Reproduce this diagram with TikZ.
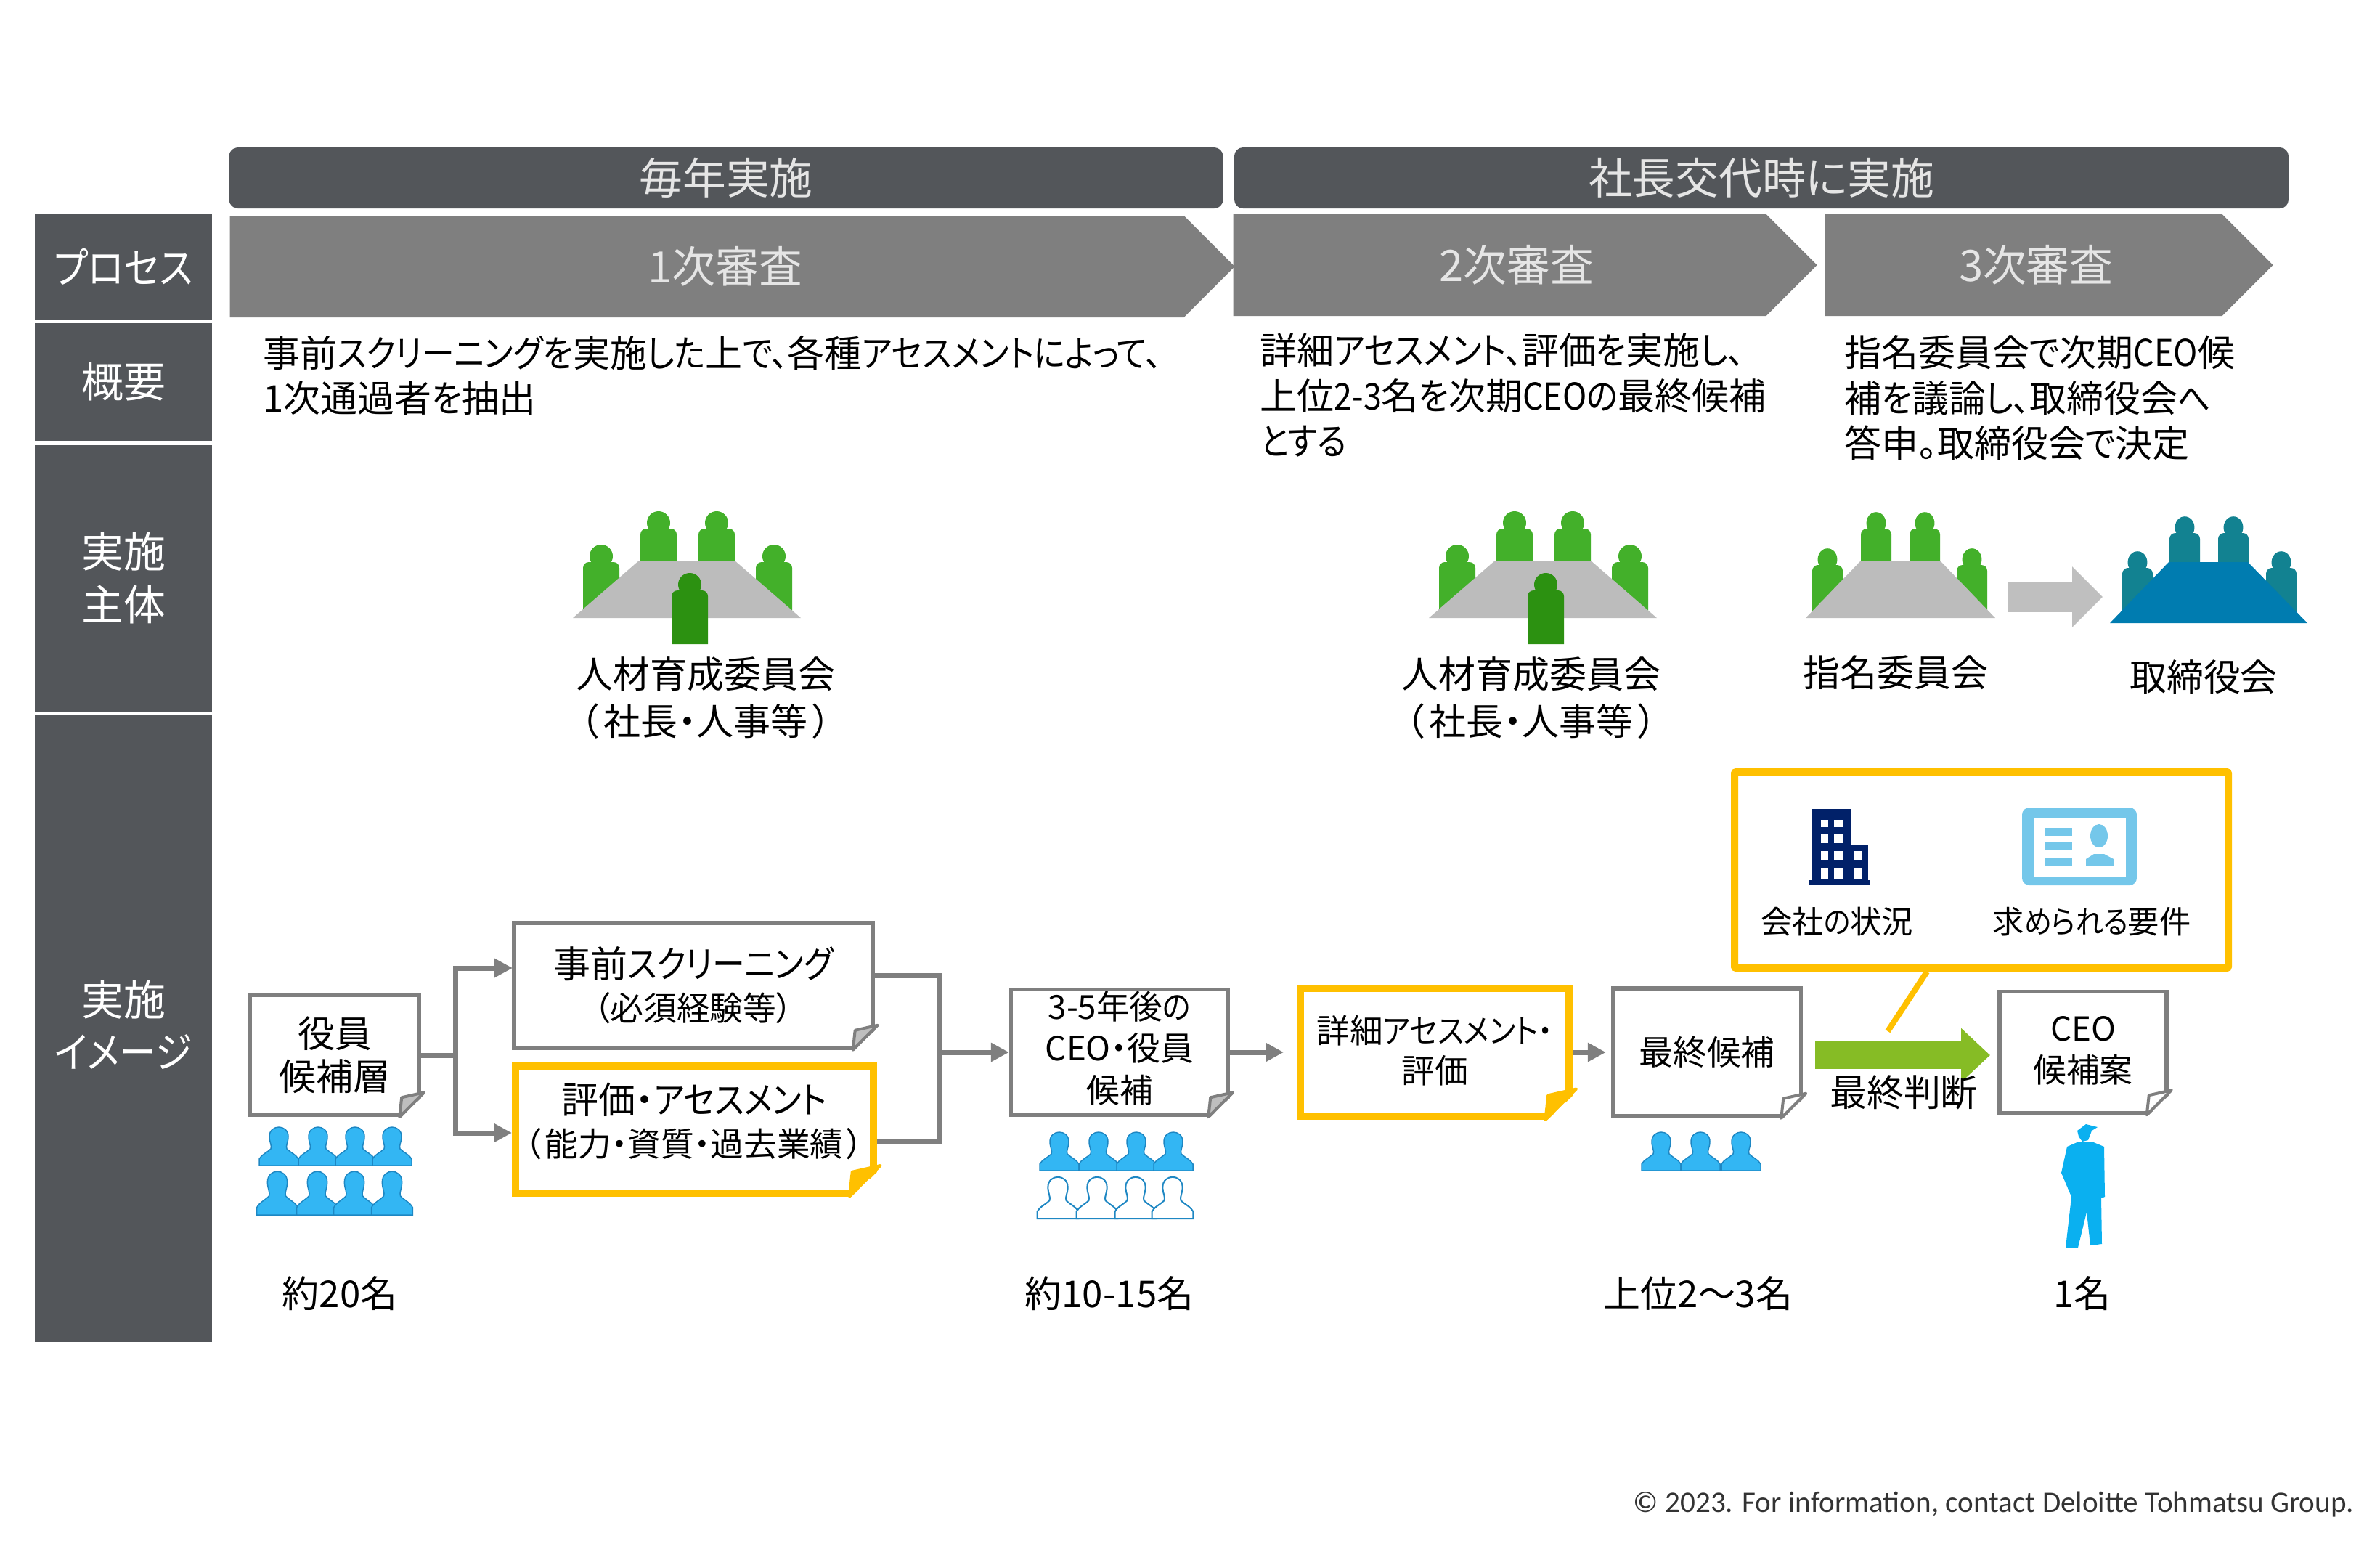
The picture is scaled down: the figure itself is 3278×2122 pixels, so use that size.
\documentclass[tikz,border=0pt]{standalone}
\usepackage{fontspec}
\setmainfont{Noto Sans CJK JP}[RawFeature=+palt]
\newfontfamily\narrowfont{Noto Sans CJK JP}[RawFeature=+palt, FakeStretch=0.88]
\newfontfamily\footfont{Carlito}
\newcommand{\kn}[1]{{\narrowfont #1}}
\usepackage{xcolor}
\usetikzlibrary{arrows.meta, positioning, calc, shapes.symbols}
\definecolor{panel}{RGB}{83, 86, 90}
\definecolor{chev}{RGB}{127, 127, 127}
\definecolor{notegray}{RGB}{127, 127, 127}
\definecolor{foldgray}{RGB}{191, 191, 191}
\definecolor{accent}{RGB}{255, 192, 0}
\definecolor{seatgreen}{RGB}{67, 176, 42}
\definecolor{seatdark}{RGB}{44, 145, 17}
\definecolor{tablegray}{RGB}{188, 188, 188}
\definecolor{seatteal}{RGB}{18, 130, 145}
\definecolor{tableblue}{RGB}{0, 124, 176}
\definecolor{bustblue}{RGB}{51, 182, 243}
\definecolor{bustline}{RGB}{30, 135, 195}
\definecolor{manblue}{RGB}{10, 176, 240}
\definecolor{navy}{RGB}{1, 33, 105}
\definecolor{cardblue}{RGB}{116, 199, 234}
\definecolor{judge}{RGB}{134, 188, 37}
\tikzset{
    sidebox/.style={rectangle, fill=panel, text=white, align=center, inner sep=0pt, minimum width=24.4mm, font=\fontsize{16.5}{20.7}\selectfont},
    band/.style={rectangle, rounded corners=1.2mm, fill=panel, text=white!90!black, minimum height=8.4mm, inner sep=0pt, font=\fontsize{17}{20}\selectfont},
    phase/.style={signal, signal to=east, signal from=nowhere, signal pointer angle=90, fill=chev, text=white!90!black, minimum height=14mm, inner sep=0pt, font=\fontsize{17}{20}\selectfont},
    desc/.style={align=left, inner sep=0pt, anchor=west, font=\fontsize{14.5}{17.8}\selectfont},
    lab/.style={align=center, inner sep=0pt, font=\fontsize{14.5}{18.5}\selectfont},
    smalllab/.style={align=center, inner sep=0pt, font=\fontsize{12.3}{15}\selectfont},
    note/.style={rectangle, draw=notegray, line width=0.55mm, fill=white, align=center, inner sep=0pt, font=\fontsize{14.5}{16.8}\selectfont},
    keynote/.style={note, draw=accent, line width=1mm},
    arr/.style={-{Triangle[length=2.5mm,width=2.5mm]}, line width=0.7mm, notegray},
    plain/.style={line width=0.7mm, notegray},
    bustfull/.style={fill=bustblue, draw=bustline, line width=0.15mm},
    bustopen/.style={fill=white, draw=bustline, line width=0.2mm},
    seatfig/.pic={
        \path[pic actions] (-25,74) [rounded corners=0.8mm] -- (-25,0) -- (25,0) [sharp corners] -- (25,74) -- cycle;
        \path[pic actions] (0,-8) circle[radius=16];
    },
    bustfig/.pic={
        \path[pic actions] (-27,0) -- (-27,-9) .. controls (-24,-15) and (-16,-18) .. (-11,-23) .. controls (-9,-27) and (-13,-32) .. (-13,-40) .. controls (-13,-49) and (-6,-53) .. (0,-53) .. controls (6,-53) and (13,-49) .. (13,-40) .. controls (13,-32) and (9,-27) .. (11,-23) .. controls (16,-18) and (24,-15) .. (27,-9) -- (27,0) -- cycle;
    }
}
\newcommand{\notefold}[4]{
    \fill[white] ($(#1.south east)+(-30*#4,3)$) -- ($(#1.south east)+(8*#4,3)$) -- ($(#1.south east)+(8*#4,-34*#4)$) -- cycle;
    \draw[#2, fill=#3, line width=0.4mm, line join=round] ($(#1.south east)+(-30*#4,0)$) -- ($(#1.south east)+(4*#4,-34*#4)$) -- ($(#1.south east)+(-27*#4,-27*#4)$) -- cycle;
}
\begin{document}
\begin{tikzpicture}[x=0.1mm, y=-0.1mm]
    \useasboundingbox (0,0) rectangle (3278,2122);

    \node[sidebox, minimum height=14.5mm] (proc) at (170,367) {\kn{プロセス}};
    \node[sidebox, minimum height=16.2mm] (gaiyo) at (170,526) {概要};
    \node[sidebox, minimum height=36.7mm] (shutai) at (170,796) {実施\\主体};
    \node[sidebox, minimum height=86.3mm] (image) at (170,1416) {実施\\\kn{イメージ}\\[-17.3pt]\mbox{}};

    \node[band, minimum width=136.9mm] (yearly) at (1000,245) {毎年実施};
    \node[band, minimum width=145.2mm] (change) at (2426,245) {社長交代時に実施};

    \node[phase, minimum width=138.4mm, anchor=west] (stepA) at (316,367) {\hspace*{5mm}1次審査};
    \node[phase, minimum width=80.4mm, anchor=west] (stepB) at (1698,365) {\hspace*{4.6mm}2次審査};
    \node[phase, minimum width=61.7mm, anchor=west] (stepC) at (2513,365) {\hspace*{3.4mm}3次審査};

    \node[desc] (descA) at (362,517) {事前\kn{スクリーニングを}実施\kn{した}上\kn{で、}各種\kn{アセスメントによって、}\\1次通過者\kn{を}抽出};
    \node[desc] (descB) at (1735,544) {詳細\kn{アセスメント、}評価\kn{を}実施\kn{し、}\\上位\kn{2-3}名\kn{を}次期\kn{CEOの}最終候補\\\kn{とする}};
    \node[desc] (descC) at (2540,548) {指名委員会\kn{で}次期\kn{CEO}候\\補\kn{を}議論\kn{し、}取締役会\kn{へ}\\答申。取締役会\kn{で}決定};

    \foreach \dx in {0,1179}{
        \begin{scope}[shift={(\dx,0)}]
            \foreach \x/\y in {828/774, 907/728, 987/728, 1066/774}
                \pic[fill=seatgreen] at (\x,\y) {seatfig};
            \fill[tablegray] (789,851) -- (880,772) -- (1012,772) -- (1103,851) -- cycle;
            \pic[fill=seatdark] at (950,813) {seatfig};
        \end{scope}
    }
    \node[lab] (ikuseiA) at (972,961) {人材育成委員会\\（\hspace{.15em}社長・人事等\hspace{.15em}）};
    \node[lab] (ikuseiB) at (2109,961) {人材育成委員会\\（\hspace{.15em}社長・人事等\hspace{.15em}）};

    \foreach \x/\y in {2517/778, 2584/728, 2651/728, 2716/778}
        \pic[fill=seatgreen, xscale=0.84, yscale=0.95] at (\x,\y) {seatfig};
    \fill[tablegray] (2487,851) -- (2563,772) -- (2672,772) -- (2748,851) -- cycle;
    \foreach \x/\y in {2944/782, 3009/734, 3076/734, 3142/782}
        \pic[fill=seatteal, xscale=0.84, yscale=0.95] at (\x,\y) {seatfig};
    \fill[tableblue] (2906,858) -- (2987,774) -- (3096,774) -- (3178,858) -- cycle;
    \coordinate (passS) at (2766,822);
    \coordinate (passE) at (2896,822);
    \draw[foldgray, line width=4.1mm, -{Triangle[length=4.2mm,width=8.1mm]}] (passS) -- (passE);
    \node[lab] (shimei) at (2611,926) {指名委員会};
    \node[lab] (board) at (3035,932) {取締役会};

    \node[note, minimum width=23.3mm, minimum height=16.5mm] (kouho) at (461,1453) {役員\\候補層\\[-15.5pt]\mbox{}};
    \node[note, minimum width=49.4mm, minimum height=17.2mm] (screen) at (955,1357) {事前\kn{スクリーニング}\\{\fontsize{13}{16.8}\selectfont（必須経験等）}};
    \node[keynote, minimum width=49.3mm, minimum height=17.5mm] (hyoka) at (956,1555) {評価・\kn{アセスメント}\\{\fontsize{13}{16.8}\selectfont（\hspace{.1em}能力・資質・過去業績\hspace{.1em}）}\\[-9pt]\mbox{}};
    \node[note, minimum width=29.9mm, minimum height=17.3mm, font=\fontsize{13}{16.3}\selectfont] (nominee) at (1542,1449) {3-5年後\kn{の}\\CEO・役員\\候補\\[-12pt]\mbox{}};
    \node[keynote, minimum width=37mm, minimum height=17.6mm, font=\fontsize{13}{15.6}\selectfont] (detail) at (1976,1449) {詳細\kn{アセスメント・}\\評価\\[-13pt]\mbox{}};
    \node[note, minimum width=25.9mm, minimum height=17.6mm, font=\fontsize{13.3}{16}\selectfont] (final) at (2351,1449) {最終候補};
    \node[note, minimum width=23mm, minimum height=16.7mm, font=\fontsize{13}{16.4}\selectfont] (ceo) at (2869,1449) {CEO\\候補案\\[-14pt]\mbox{}};
    \foreach \n/\c/\f/\s in {kouho/notegray/foldgray/1, screen/notegray/foldgray/1, hyoka/accent/accent/1.25, nominee/notegray/foldgray/1, detail/accent/accent/1.25, final/notegray/white/1, ceo/notegray/white/1}
        \notefold{\n}{\c}{\f}{\s};

    \coordinate (trunk) at (627,1453);
    \coordinate (scrIn) at (706,1333);
    \coordinate (hyoIn) at (705,1560);
    \coordinate (scrOut) at (1205,1343);
    \coordinate (hyoOut) at (1208,1571);
    \coordinate (mrg) at (1294,1449);
    \draw[plain] (kouho.east) -- (trunk);
    \draw[arr] (trunk) |- (scrIn);
    \draw[arr] (trunk) |- (hyoIn);
    \draw[plain] (scrOut) -| (mrg);
    \draw[plain] (hyoOut) -| (mrg);
    \draw[arr] (mrg) -- (nominee.west);
    \draw[arr, shorten >=1.8mm] (nominee.east) -- (detail.west);
    \draw[arr, shorten >=0.7mm] (detail.east) -- (final.west);

    \coordinate (judgeS) at (2500,1453);
    \coordinate (judgeE) at (2741,1453);
    \draw[judge, line width=3.8mm, -{Triangle[length=4mm,width=7.2mm]}] (judgeS) -- (judgeE);
    \node[lab] (judgeT) at (2622,1504) {最終判断};

    \node[rectangle, draw=accent, line width=1mm, rounded corners=0.2mm, minimum width=68mm, minimum height=27mm, inner sep=0pt] (factors) at (2729,1198) {};
    \coordinate (factorTail) at (2600,1420);
    \draw[accent, line width=0.8mm] (factors.south -| 2654,0) -- (factorTail);

    \fill[navy] (2496,1114) rectangle (2550,1212);
    \fill[navy] (2550,1163) rectangle (2573,1212);
    \fill[navy] (2492,1212) rectangle (2576,1219);
    \foreach \y/\h in {1129/10, 1149/12}
        \foreach \x/\w in {2508/10, 2526/12}
            \fill[white] (\x,\y) rectangle ++(\w,\h);
    \foreach \y/\h in {1172/12, 1195/16}
        \foreach \x/\w in {2508/10, 2526/12, 2553/11}
            \fill[white] (\x,\y) rectangle ++(\w,\h);
    \fill[cardblue, rounded corners=1mm] (2785,1112) rectangle (2943,1219);
    \fill[white] (2801,1126) rectangle (2928,1207);
    \foreach \y in {1140,1160,1181}
        \fill[cardblue] (2817,\y) rectangle ++(37,11);
    \fill[cardblue] (2891,1151) ellipse[x radius=12, y radius=16];
    \fill[cardblue] (2873,1192) -- (2873,1183) -- (2884,1176) -- (2898,1176) -- (2911,1183) -- (2911,1192) -- cycle;
    \node[smalllab] (company) at (2530,1269) {会社\kn{の}状況};
    \node[smalllab] (needs) at (2881,1269) {求\kn{められる}要件};

    \foreach \x in {384,438,489,540}
        \pic[bustfull] at (\x,1605) {bustfig};
    \foreach \x in {382,437,488,540}
        \pic[bustfull, yscale=1.13, xscale=1.05] at (\x,1673) {bustfig};
    \foreach \x in {1459,1513,1565,1616}
        \pic[bustfull] at (\x,1612) {bustfig};
    \foreach \x in {1457,1511,1564,1615}
        \pic[bustopen, yscale=1.08, xscale=1.05] at (\x,1678) {bustfig};
    \foreach \x in {2288,2342,2398}
        \pic[bustfull] at (\x,1612) {bustfig};

    \fill[manblue] (2861,1557) -- (2873,1548) -- (2889,1552) -- (2881,1557) -- (2876,1570) -- (2868,1572) -- (2863,1565) -- cycle;
    \fill[manblue] (2847,1579) -- (2863,1572) -- (2881,1572) -- (2898,1579) -- (2899,1648) -- (2894,1650) -- (2895,1713) -- (2879,1715) -- (2874,1669) -- (2862,1718) -- (2845,1718) -- (2853,1648) -- (2839,1615) -- cycle;

    \node[lab] (countA) at (468,1781) {約20名};
    \node[lab] (countB) at (1528,1781) {約10-15名};
    \node[lab] (countC) at (2339,1781) {上位2〜3名};
    \node[lab] (countD) at (2868,1781) {1名};

    \node[inner sep=0pt, anchor=east, text=black!80, font=\footfont\fontsize{11.7}{14}\selectfont] (copy) at (3243,2072) {© 2023. For information, contact Deloitte Tohmatsu Group.};
\end{tikzpicture}
\end{document}
